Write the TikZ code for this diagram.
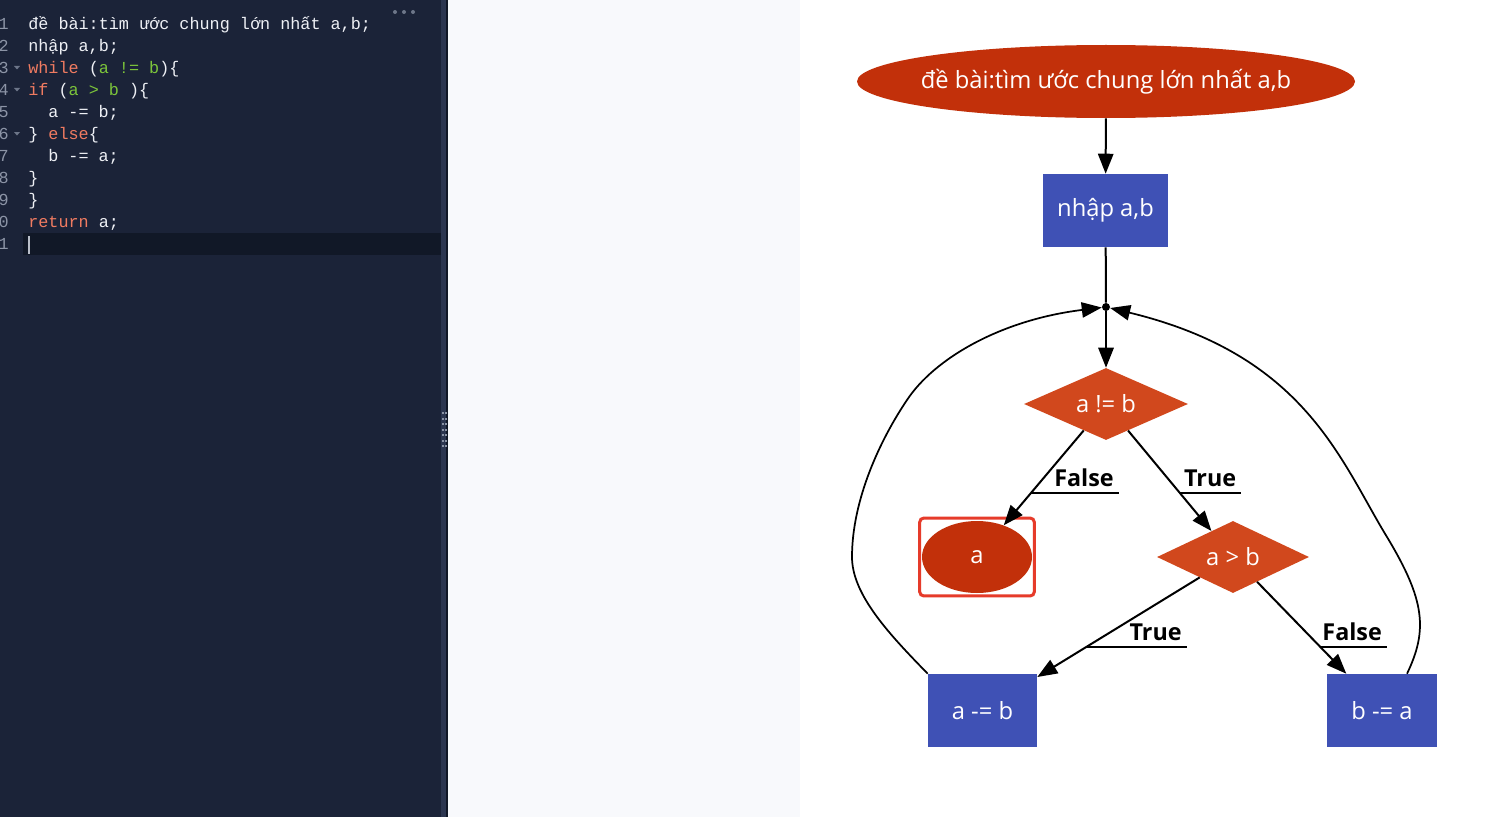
\documentclass[tikz,border=0pt]{standalone}
\usepackage{fontspec}
\setmainfont{Open Sans}
\newfontfamily\codefont{Liberation Mono}
\usetikzlibrary{shapes.geometric,arrows.meta,positioning,fit,calc}
\definecolor{editorbg}{HTML}{1B2338}
\definecolor{curline}{HTML}{111827}
\definecolor{gutterbar}{HTML}{2C3650}
\definecolor{gripdot}{HTML}{8A93A5}
\definecolor{paperbg}{HTML}{F8F9FC}
\definecolor{codetxt}{HTML}{EEF0F5}
\definecolor{lineno}{HTML}{8C94A6}
\definecolor{foldgray}{HTML}{6D7689}
\definecolor{kwred}{HTML}{F07B61}
\definecolor{kwgreen}{HTML}{7CC43B}
\definecolor{termred}{HTML}{C2300A}
\definecolor{decorange}{HTML}{D1481D}
\definecolor{stepblue}{HTML}{3F51B5}
\definecolor{hilite}{HTML}{E63B2A}
\newcommand{\kwr}[1]{\textcolor{kwred}{#1}}
\newcommand{\kwg}[1]{\textcolor{kwgreen}{#1}}
\tikzset{
  codeline/.style={anchor=base west,inner sep=0pt,text=codetxt,
    font=\codefont\fontsize{12.6}{14}\selectfont},
  linenum/.style={anchor=base east,inner sep=0pt,text=lineno,
    font=\codefont\fontsize{12.6}{14}\selectfont},
  terminal/.style={ellipse,fill=termred,text=white,inner sep=0pt,
    font=\fontsize{17.8}{20}\selectfont},
  process/.style={rectangle,fill=stepblue,text=white,inner sep=0pt,
    minimum height=54.75pt,font=\fontsize{17.8}{20}\selectfont},
  decision/.style={diamond,aspect=2.3,fill=decorange,text=white,inner sep=0pt,
    minimum height=54pt,font=\fontsize{17.8}{20}\selectfont},
  myarrow/.style={-{Triangle[length=15pt,width=11.5pt]},line width=1.5pt},
  looparrow/.style={-{Triangle[length=15pt,width=11.5pt]},line width=1.3pt},
  edgelbl/.style={anchor=base west,inner sep=0pt,font=\bfseries\fontsize{17.5}{20}\selectfont},
  uline/.style={line width=1.5pt},
}

\begin{document}
\begin{tikzpicture}[x=0.75pt,y=-0.75pt]
  \useasboundingbox (0,0) rectangle (1492,817);
  % panels
  \fill[white] (0,0) rectangle (1492,817);
  \fill[paperbg] (447,0) rectangle (800,817);
  \fill[editorbg] (0,0) rectangle (441,817);
  \fill[curline] (23,233) rectangle (441,255);
  \fill[gutterbar] (441,0) rectangle (446,817);
  \fill[curline] (446,0) rectangle (447.5,817);
  \foreach \k in {0,...,6} {
    \fill[gripdot] (441.5,412+5.5*\k) rectangle +(2,2);
    \fill[gripdot] (444.5,412+5.5*\k) rectangle +(2,2);
  }
  \foreach \dx in {395,404,413}
    \fill[foldgray] (\dx,12) circle (2);
  \draw[lineno!60,line width=1.2pt] (29,236) -- (29,254);
  % editor text
  \foreach \n/\d in {1/1,2/2,3/3,4/4,5/5,6/6,7/7,8/8,9/9,10/0,11/1}
    \node[linenum] at (9,7.5+22*\n) {\d};
  \foreach \ly in {68,90,134}
    \fill[foldgray] (14,\ly-2) -- (20,\ly-2) -- (17,\ly+1.5) -- cycle;
  \node[codeline] (c1) at (28,29.5) {đề bài:tìm ước chung lớn nhất a,b;};
  \node[codeline] (c2) at (28,51.5) {nhập a,b;};
  \node[codeline] (c3) at (28,73.5) {\kwr{while} (\kwg{a != b})\{};
  \node[codeline] (c4) at (28,95.5) {\kwr{if} (\kwg{a > b} )\{};
  \node[codeline] (c5) at (48,117.5) {a -= b;};
  \node[codeline] (c6) at (28,139.5) {\} \kwr{else}\{};
  \node[codeline] (c7) at (48,161.5) {b -= a;};
  \node[codeline] (c8) at (28,183.5) {\}};
  \node[codeline] (c9) at (28,205.5) {\}};
  \node[codeline] (c10) at (28,227.5) {\kwr{return} a;};
  % flowchart
  \node[terminal,inner xsep=-8pt,minimum width=373.5pt,minimum height=54.75pt] (tt) at (1106,81.5)
    {đề bài:tìm ước chung lớn nhất a,b};
  \node[process,minimum width=93.75pt] (np) at (1105.5,210.5) {nhập a,b};
  \node[circle,fill=black,inner sep=0pt,minimum size=6pt] (jn) at (1106,307) {};
  \node[decision,minimum width=123pt] (ne) at (1106,404) {a != b};
  \node[terminal,minimum width=82.5pt,minimum height=54pt] (aa) at (977,557) {a};
  \node[decision,minimum width=114pt] (gt) at (1233,557) {a > b};
  \node[process,minimum width=81.75pt] (ab) at (982.5,710.5) {a -= b};
  \node[process,minimum width=82.5pt] (ba) at (1382,710.5) {b -= a};
  \node[fit=(aa),draw=hilite,line width=2.25pt,rounded corners=3pt,
    inner xsep=1.5pt,inner ysep=2pt] (hl) {};
  \draw[myarrow] (tt) -- (np);
  \draw[line width=1.5pt] (np) -- (jn);
  \draw[myarrow] (jn) -- (ne);
  \draw[myarrow] (ne) -- coordinate[pos=0.659] (fl) (aa);
  \draw[myarrow] (ne) -- coordinate[pos=0.621] (tl) (gt);
  \draw[myarrow] (gt) -- coordinate[pos=0.698] (tb) (ab);
  \draw[myarrow] (gt) -- coordinate[pos=0.707] (fb) (ba);
  \node[edgelbl] (flbl) at ([xshift=17.25pt,yshift=4.5pt]fl) {False};
  \node[edgelbl] (tlbl) at ([xshift=3pt,yshift=4.5pt]tl) {True};
  \node[edgelbl] (tblbl) at ([xshift=32.25pt,yshift=4.5pt]tb) {True};
  \node[edgelbl] (fblbl) at ([xshift=1.5pt,yshift=4.5pt]fb) {False};
  \draw[uline] (fl) -- ([xshift=3.5pt]fl -| flbl.east);
  \draw[uline] (tl) -- ([xshift=3.5pt]tl -| tlbl.east);
  \draw[uline] (tb) -- ([xshift=3.5pt]tb -| tblbl.east);
  \draw[uline] (fb) -- ([xshift=3.5pt]fb -| fblbl.east);
  % loops back to the junction
  \draw[looparrow] (ab.north west) .. controls (890,635) and (852,595) .. (852,557)
    .. controls (852,500) and (880,440) .. (907,400)
    .. controls (934,359) and (1000,320) .. (jn);
  \draw[looparrow] ([xshift=18.75pt]ba.north) .. controls (1428,630) and (1425,600) .. (1387,537)
    .. controls (1340,460) and (1305,355) .. (jn);
\end{tikzpicture}
\end{document}
